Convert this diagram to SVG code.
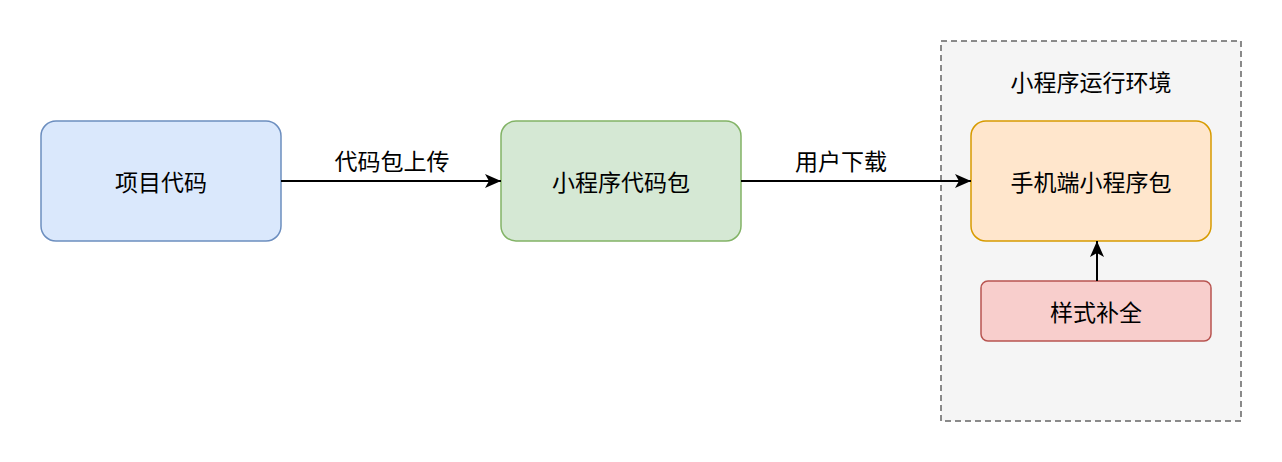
<svg xmlns="http://www.w3.org/2000/svg" width="1282" height="462" viewBox="0 0 1282 462">
<style>
text{font-family:"Noto Sans CJK SC","Liberation Sans",sans-serif;font-size:23px;fill:#000;text-anchor:middle;dominant-baseline:central}
.e{fill:none;stroke:#000;stroke-width:2}
</style>
<defs><marker id="a" markerWidth="16" markerHeight="16" refX="16" refY="7" orient="auto" markerUnits="userSpaceOnUse"><path d="M0,0 L16,7 L0,14 L4,7 Z" fill="#000"/></marker></defs>
<rect width="1282" height="462" fill="#fff"/>
<g id="env"><rect x="941" y="41" width="300" height="380" fill="#f5f5f5" stroke="#666" stroke-width="1.5" stroke-dasharray="6 4"/><text x="1091" y="81">小程序运行环境</text></g>
<g id="n1"><rect x="41" y="121" width="240" height="120" rx="15" fill="#dae8fc" stroke="#6c8ebf" stroke-width="1.5"/><text x="161" y="181">项目代码</text></g>
<g id="n2"><rect x="501" y="121" width="240" height="120" rx="15" fill="#d5e8d4" stroke="#82b366" stroke-width="1.5"/><text x="621" y="181">小程序代码包</text></g>
<g id="n3"><rect x="971" y="121" width="240" height="120" rx="15" fill="#ffe6cc" stroke="#d79b00" stroke-width="1.5"/><text x="1091" y="181">手机端小程序包</text></g>
<g id="n4"><rect x="981" y="281" width="230" height="60" rx="7" fill="#f8cecc" stroke="#b85450" stroke-width="1.5"/><text x="1096" y="311">样式补全</text></g>
<g id="edges">
<path class="e" d="M281 181 H501" marker-end="url(#a)"/><text x="392" y="160">代码包上传</text>
<path class="e" d="M741 181 H971" marker-end="url(#a)"/><text x="841" y="160">用户下载</text>
<path class="e" d="M1097 281 V241" marker-end="url(#a)"/>
</g>
</svg>
